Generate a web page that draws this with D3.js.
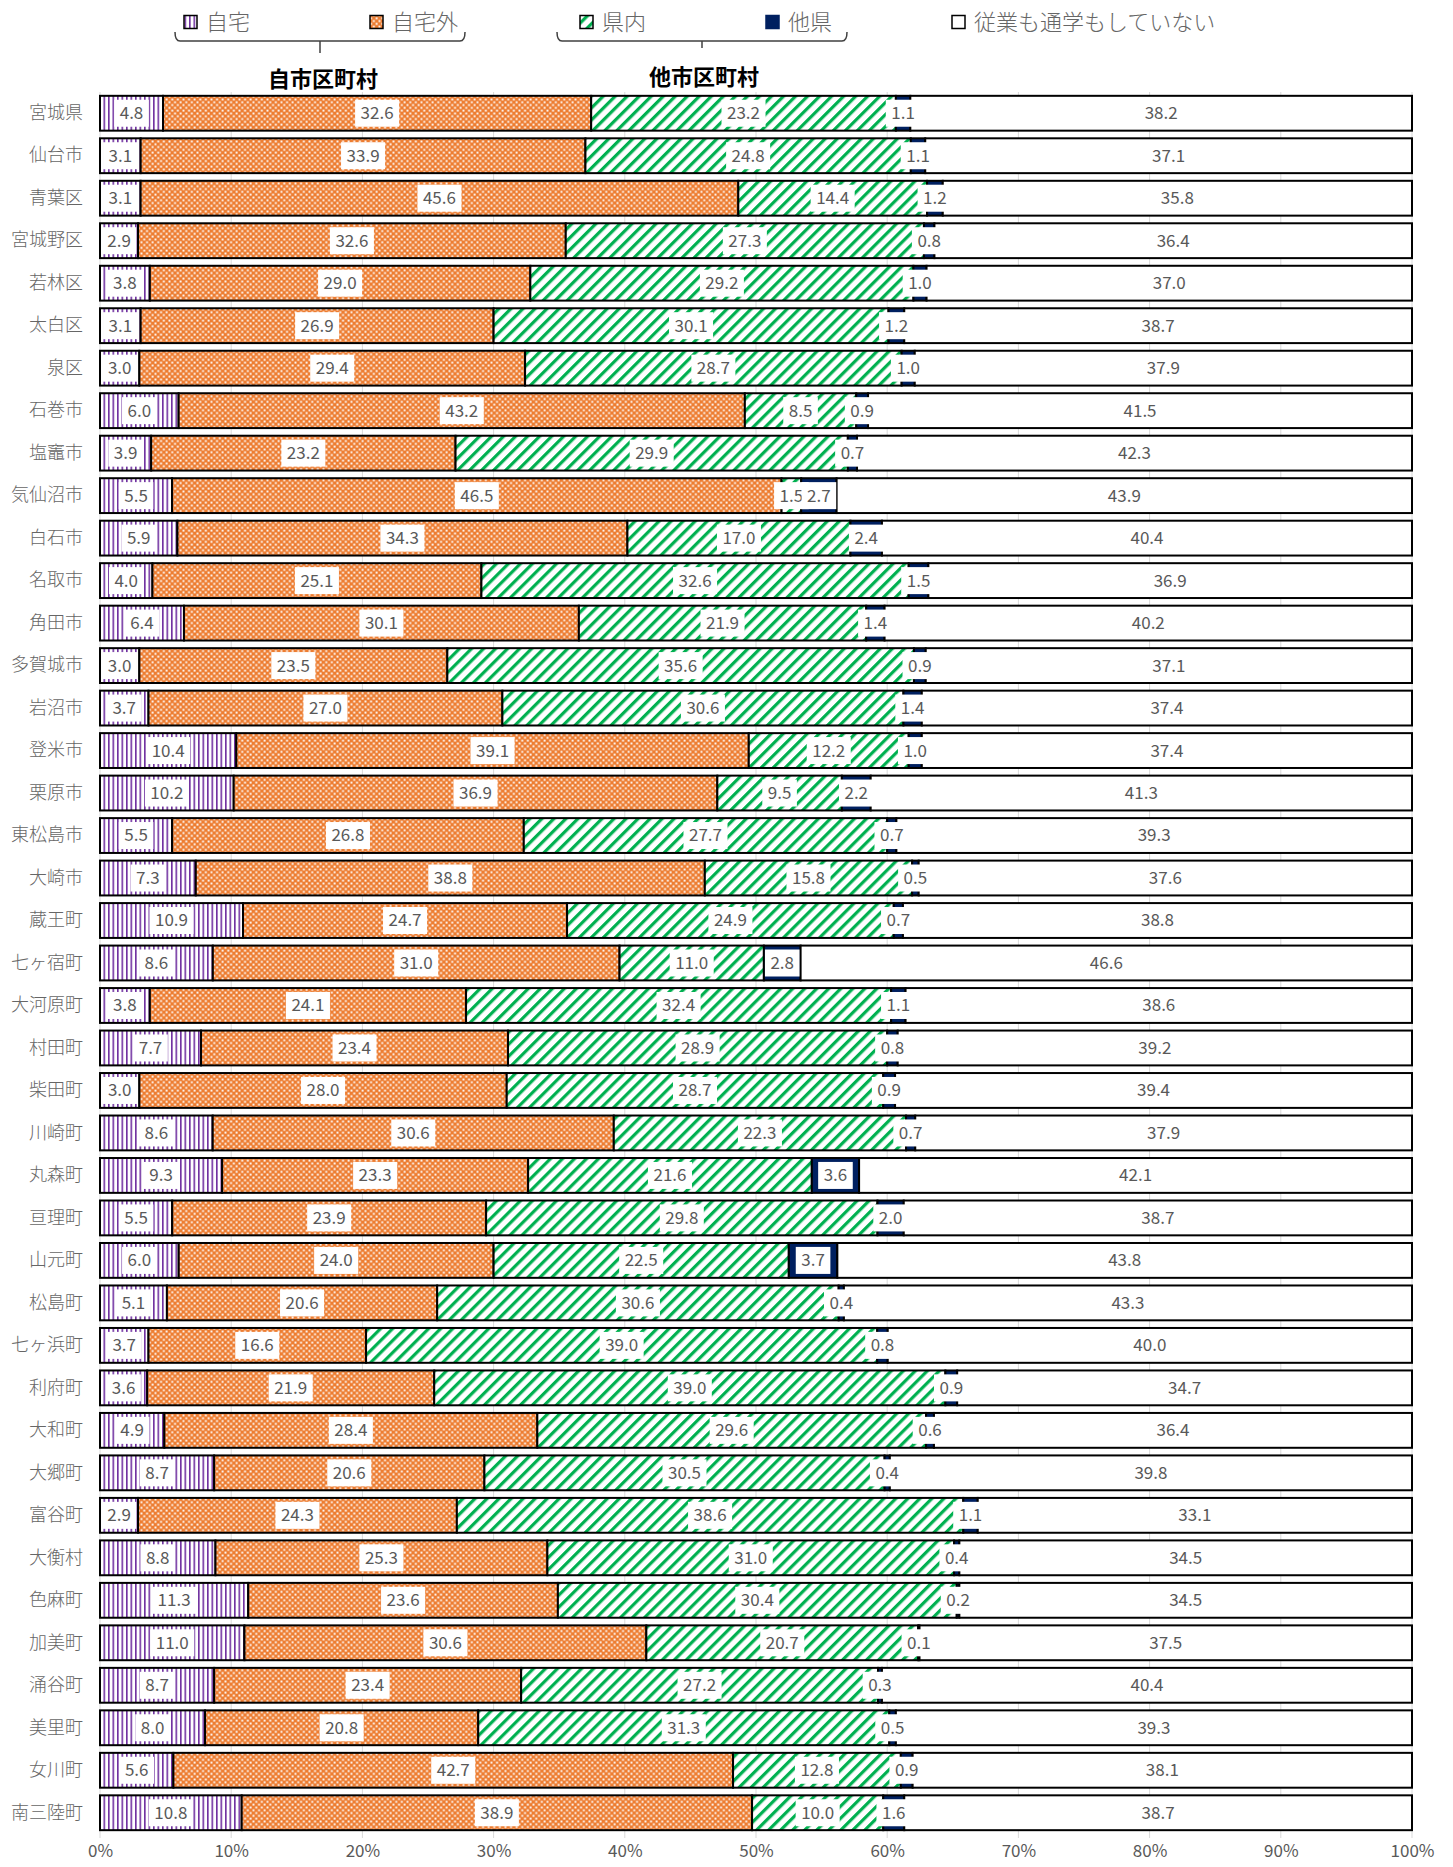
<!DOCTYPE html>
<html>
<head>
<meta charset="utf-8">
<script src="https://cdn.jsdelivr.net/npm/d3@7"></script>
<style>
body { margin: 0; background: #fff; }
svg text { font-family: "Noto Sans CJK JP", sans-serif; }
</style>
</head>
<body>
<div id="chart"></div>
<script>
// areas, top to bottom
var areas = ["宮城県","仙台市","青葉区","宮城野区","若林区","太白区","泉区","石巻市","塩竈市","気仙沼市",
  "白石市","名取市","角田市","多賀城市","岩沼市","登米市","栗原市","東松島市","大崎市","蔵王町",
  "七ヶ宿町","大河原町","村田町","柴田町","川崎町","丸森町","亘理町","山元町","松島町","七ヶ浜町",
  "利府町","大和町","大郷町","富谷町","大衡村","色麻町","加美町","涌谷町","美里町","女川町","南三陸町"];

// 自市区町村 - 自宅
var jitaku = [4.8,3.1,3.1,2.9,3.8,3.1,3.0,6.0,3.9,5.5,5.9,4.0,6.4,3.0,3.7,10.4,10.2,5.5,7.3,10.9,
  8.6,3.8,7.7,3.0,8.6,9.3,5.5,6.0,5.1,3.7,3.6,4.9,8.7,2.9,8.8,11.3,11.0,8.7,8.0,5.6,10.8];
// 自市区町村 - 自宅外
var jitakuGai = [32.6,33.9,45.6,32.6,29.0,26.9,29.4,43.2,23.2,46.5,34.3,25.1,30.1,23.5,27.0,39.1,36.9,26.8,38.8,24.7,
  31.0,24.1,23.4,28.0,30.6,23.3,23.9,24.0,20.6,16.6,21.9,28.4,20.6,24.3,25.3,23.6,30.6,23.4,20.8,42.7,38.9];
// 他市区町村 - 県内
var kennai = [23.2,24.8,14.4,27.3,29.2,30.1,28.7,8.5,29.9,1.5,17.0,32.6,21.9,35.6,30.6,12.2,9.5,27.7,15.8,24.9,
  11.0,32.4,28.9,28.7,22.3,21.6,29.8,22.5,30.6,39.0,39.0,29.6,30.5,38.6,31.0,30.4,20.7,27.2,31.3,12.8,10.0];
// 他市区町村 - 他県
var taken = [1.1,1.1,1.2,0.8,1.0,1.2,1.0,0.9,0.7,2.7,2.4,1.5,1.4,0.9,1.4,1.0,2.2,0.7,0.5,0.7,
  2.8,1.1,0.8,0.9,0.7,3.6,2.0,3.7,0.4,0.8,0.9,0.6,0.4,1.1,0.4,0.2,0.1,0.3,0.5,0.9,1.6];
// 従業も通学もしていない
var nashi = [38.2,37.1,35.8,36.4,37.0,38.7,37.9,41.5,42.3,43.9,40.4,36.9,40.2,37.1,37.4,37.4,41.3,39.3,37.6,38.8,
  46.6,38.6,39.2,39.4,37.9,42.1,38.7,43.8,43.3,40.0,34.7,36.4,39.8,33.1,34.5,34.5,37.5,40.4,39.3,38.1,38.7];

var seriesNames = ["自宅","自宅外","県内","他県","従業も通学もしていない"];
var xTicks = [0,0.1,0.2,0.3,0.4,0.5,0.6,0.7,0.8,0.9,1];

var width = 1453, height = 1867;
var numFont = "'Liberation Sans Narrow','Arial Narrow','DejaVu Sans Condensed',sans-serif";

var svg = d3.select("#chart").append("svg")
  .attr("width", width)
  .attr("height", height);

var defs = svg.append("defs");

// purple vertical lines
var pVert = defs.append("pattern").attr("id", "p-jitaku")
  .attr("patternUnits", "userSpaceOnUse").attr("width", 4.5).attr("height", 10);
pVert.append("rect").attr("width", 4.5).attr("height", 10).attr("fill", "#fff");
pVert.append("rect").attr("width", 1.6).attr("height", 10).attr("fill", "#7030a0");

// orange small checker
var pCheck = defs.append("pattern").attr("id", "p-gai")
  .attr("patternUnits", "userSpaceOnUse").attr("width", 5.6).attr("height", 5.6);
pCheck.append("rect").attr("width", 5.6).attr("height", 5.6).attr("fill", "#ed7d31");
pCheck.append("rect").attr("x", 0.5).attr("y", 0.5).attr("width", 1.9).attr("height", 1.9).attr("fill", "#fff");
pCheck.append("rect").attr("x", 3.3).attr("y", 3.3).attr("width", 1.9).attr("height", 1.9).attr("fill", "#fff");

// green wide upward diagonal
var pDiag = defs.append("pattern").attr("id", "p-kennai")
  .attr("patternUnits", "userSpaceOnUse").attr("width", 8.5).attr("height", 8.5)
  .attr("patternTransform", "rotate(45)");
pDiag.append("rect").attr("width", 8.5).attr("height", 8.5).attr("fill", "#fff");
pDiag.append("rect").attr("width", 3.2).attr("height", 8.5).attr("fill", "#00b050");

var fills = ["url(#p-jitaku)", "url(#p-gai)", "url(#p-kennai)", "#002060", "#fff"];

var rows = areas.map(function(a, i) {
  var r = { area: a };
  r[seriesNames[0]] = jitaku[i];
  r[seriesNames[1]] = jitakuGai[i];
  r[seriesNames[2]] = kennai[i];
  r[seriesNames[3]] = taken[i];
  r[seriesNames[4]] = nashi[i];
  return r;
});

var stacked = d3.stack().keys(seriesNames).offset(d3.stackOffsetExpand)(rows);

var x = d3.scaleLinear().domain([0, 1]).range([100, 1412]);
var y = d3.scaleBand().domain(areas).range([92, 1834]).paddingInner(0.18).paddingOuter(0.09);

// gridlines
svg.append("g").selectAll("line").data(xTicks).enter().append("line")
  .attr("x1", function(d) { return x(d); })
  .attr("x2", function(d) { return x(d); })
  .attr("y1", 92).attr("y2", 1838)
  .attr("stroke", "#d9d9d9").attr("stroke-width", 1);

// x axis labels
var xAxis = svg.append("g")
  .attr("transform", "translate(0,1845)")
  .call(d3.axisBottom(x).tickValues(xTicks).tickSize(0).tickPadding(0).tickFormat(d3.format(".0%")));
xAxis.select(".domain").remove();
xAxis.selectAll("text").attr("font-family", numFont).attr("font-size", 17).attr("fill", "#595959");

// category labels
var yAxis = svg.append("g")
  .attr("transform", "translate(83,0)")
  .call(d3.axisLeft(y).tickSize(0).tickPadding(0));
yAxis.select(".domain").remove();
yAxis.selectAll("text").attr("font-family", "'Noto Sans CJK JP',sans-serif")
  .attr("font-size", 18).attr("font-weight", 300).attr("fill", "#666");

// segments
var series = svg.append("g").selectAll("g").data(stacked).enter().append("g")
  .attr("fill", function(d, i) { return fills[i]; });

series.selectAll("rect").data(function(d) { return d; }).enter().append("rect")
  .attr("x", function(d) { return x(d[0]); })
  .attr("y", function(d) { return y(d.data.area); })
  .attr("width", function(d) { return x(d[1]) - x(d[0]); })
  .attr("height", y.bandwidth())
  .attr("stroke", "#000")
  .attr("stroke-width", 2);

// data labels with white boxes
var labelLayer = svg.append("g");
stacked.forEach(function(s) {
  s.forEach(function(d) {
    var cx = (x(d[0]) + x(d[1])) / 2;
    var cy = y(d.data.area) + y.bandwidth() / 2;
    var g = labelLayer.append("g");
    var box = g.append("rect").attr("fill", "#fff");
    var t = g.append("text")
      .attr("x", cx).attr("y", cy)
      .attr("dy", "0.35em")
      .attr("text-anchor", "middle")
      .attr("font-family", numFont)
      .attr("font-size", 17)
      .attr("fill", "#595959")
      .text(d3.format(".1f")(d.data[s.key]));
    var w = t.node().getComputedTextLength();
    box.attr("x", cx - w / 2 - 5.5).attr("y", cy - 13.5)
      .attr("width", w + 11).attr("height", 27);
  });
});

// legend
var legendItems = [
  { name: seriesNames[0], x: 184 },
  { name: seriesNames[1], x: 370 },
  { name: seriesNames[2], x: 580 },
  { name: seriesNames[3], x: 766 },
  { name: seriesNames[4], x: 952 }
];
var legend = svg.append("g");
legendItems.forEach(function(item, i) {
  legend.append("rect")
    .attr("x", item.x).attr("y", 15.5).attr("width", 13).attr("height", 13)
    .attr("fill", fills[i]).attr("stroke", i === 3 ? "#002060" : "#000")
    .attr("stroke-width", 1.5);
  legend.append("text")
    .attr("x", item.x + 22).attr("y", 22)
    .attr("dy", "0.36em")
    .attr("font-size", 22)
    .attr("font-weight", 300)
    .attr("fill", "#666")
    .text(item.name);
});

// group brackets
var groups = [
  { name: "自市区町村", x0: 175, x1: 465, tick: 320, tickEnd: 53, labelX: 323, labelY: 79 },
  { name: "他市区町村", x0: 557, x1: 847, tick: 702, tickEnd: 48, labelX: 704, labelY: 77 }
];
groups.forEach(function(g) {
  svg.append("path")
    .attr("d", "M" + g.x0 + ",32 Q" + g.x0 + ",41 " + (g.x0 + 5) + ",41 L" + (g.x1 - 5) + ",41 Q" + g.x1 + ",41 " + g.x1 + ",32")
    .attr("fill", "none").attr("stroke", "#404040").attr("stroke-width", 1.5);
  svg.append("line")
    .attr("x1", g.tick).attr("x2", g.tick).attr("y1", 41).attr("y2", g.tickEnd)
    .attr("stroke", "#404040").attr("stroke-width", 1.5);
  svg.append("text")
    .attr("x", g.labelX).attr("y", g.labelY)
    .attr("dy", "0.36em")
    .attr("text-anchor", "middle")
    .attr("font-size", 22)
    .attr("font-weight", "bold")
    .attr("fill", "#000")
    .text(g.name);
});
</script>
</body>
</html>
